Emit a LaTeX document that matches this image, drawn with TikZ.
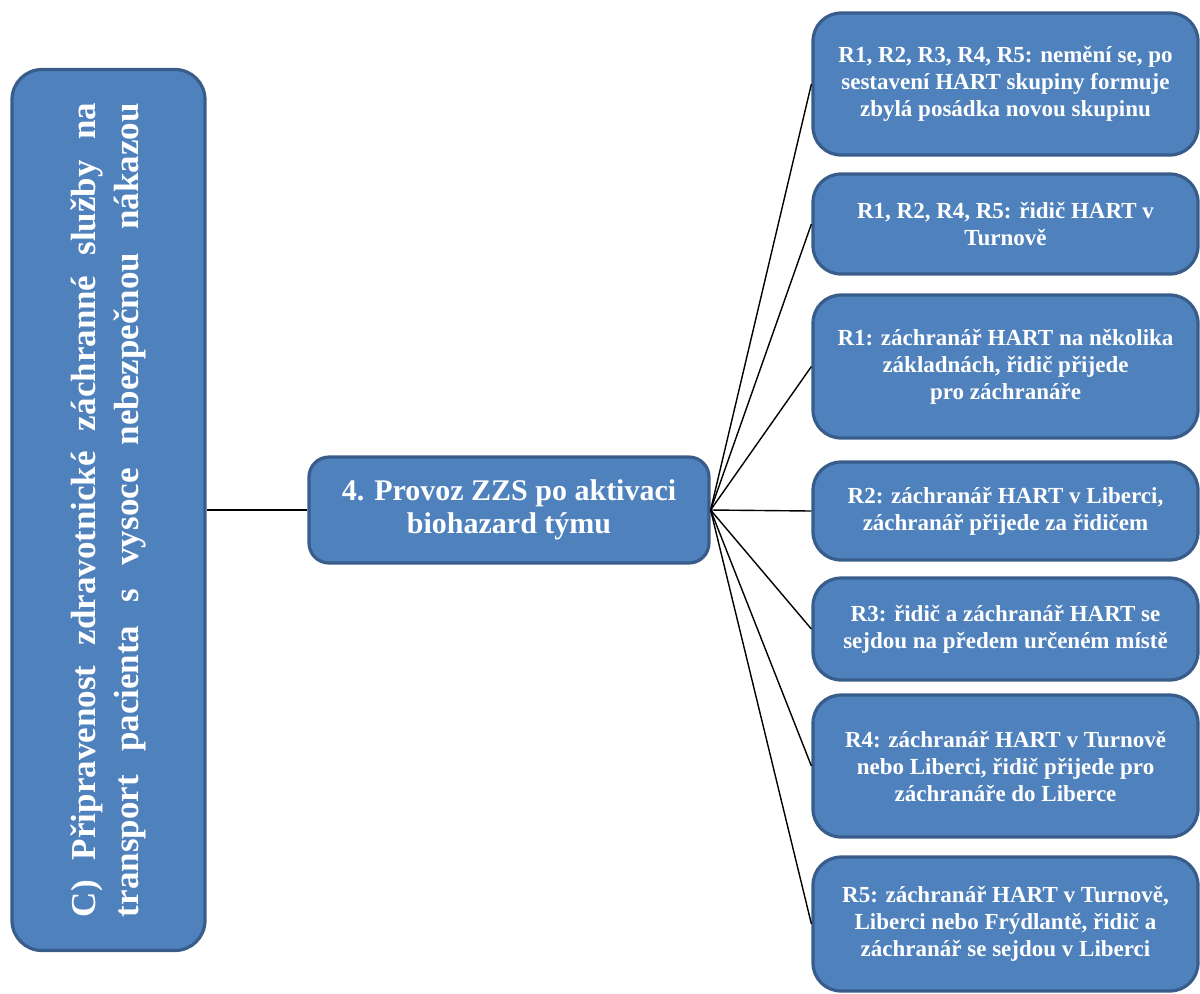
\documentclass[tikz,border=0pt]{standalone}
\usepackage{fontspec}
\setmainfont{Liberation Serif}
\usetikzlibrary{positioning}
\definecolor{boxfill}{HTML}{4F81BD}
\definecolor{boxline}{HTML}{385D8A}

\begin{document}
\begin{tikzpicture}[x=0.5pt, y=-0.5pt,
    blockbox/.style={draw=boxline, line width=1.6pt, fill=boxfill, rounded corners=14pt, text=white, align=center, inner sep=0pt},
    rbox/.style={blockbox, minimum width=192.5pt, font=\bfseries\fontsize{11.5}{13.5}\selectfont},
    link/.style={line width=0.7pt}]
    \useasboundingbox (0,0) rectangle (1200,993);
    \node[blockbox, rotate=90, minimum width=440.5pt, minimum height=96.5pt, rounded corners=15pt, font=\bfseries\fontsize{17.5}{21.5}\selectfont] (prip) at (108.5,510)
      {\makebox[407pt][s]{C) Připravenost zdravotnické záchranné služby na}\\
       \makebox[407pt][s]{transport pacienta s vysoce nebezpečnou nákazou}};
    \node[blockbox, minimum width=200pt, minimum height=53pt, rounded corners=10pt, font=\bfseries\fontsize{15}{16.5}\selectfont] (zzs) at (509,510)
      {4. Provoz ZZS po aktivaci\\biohazard týmu};
    \node[rbox, minimum height=71pt] (stav) at (1005.5,84)
      {R1, R2, R3, R4, R5: nemění se, po\\sestavení HART skupiny formuje\\zbylá posádka novou skupinu};
    \node[rbox, minimum height=50pt] (ridic) at (1005.5,224)
      {R1, R2, R4, R5: řidič HART v\\Turnově};
    \node[rbox, minimum height=71.5pt] (rjedna) at (1005.5,366.5)
      {R1: záchranář HART na několika\\základnách, řidič přijede\\pro záchranáře};
    \node[rbox, minimum height=49pt] (rdva) at (1005.5,511)
      {R2: záchranář HART v Liberci,\\záchranář přijede za řidičem};
    \node[rbox, minimum height=51pt] (rtri) at (1005.5,629)
      {R3: řidič a záchranář HART se\\sejdou na předem určeném místě};
    \node[rbox, minimum height=71pt] (rctyri) at (1005.5,766)
      {R4: záchranář HART v Turnově\\nebo Liberci, řidič přijede pro\\záchranáře do Liberce};
    \node[rbox, minimum height=67pt] (rpet) at (1005.5,924)
      {R5: záchranář HART v Turnově,\\Liberci nebo Frýdlantě, řidič a\\záchranář se sejdou v Liberci};
    \draw[link] (prip) -- (zzs);
    \draw[link] (zzs.east) -- (stav.west);
    \draw[link] (zzs.east) -- (ridic.west);
    \draw[link] (zzs.east) -- (rjedna.west);
    \draw[link] (zzs.east) -- (rdva.west);
    \draw[link] (zzs.east) -- (rtri.west);
    \draw[link] (zzs.east) -- (rctyri.west);
    \draw[link] (zzs.east) -- (rpet.west);
  \end{tikzpicture}
\end{document}
